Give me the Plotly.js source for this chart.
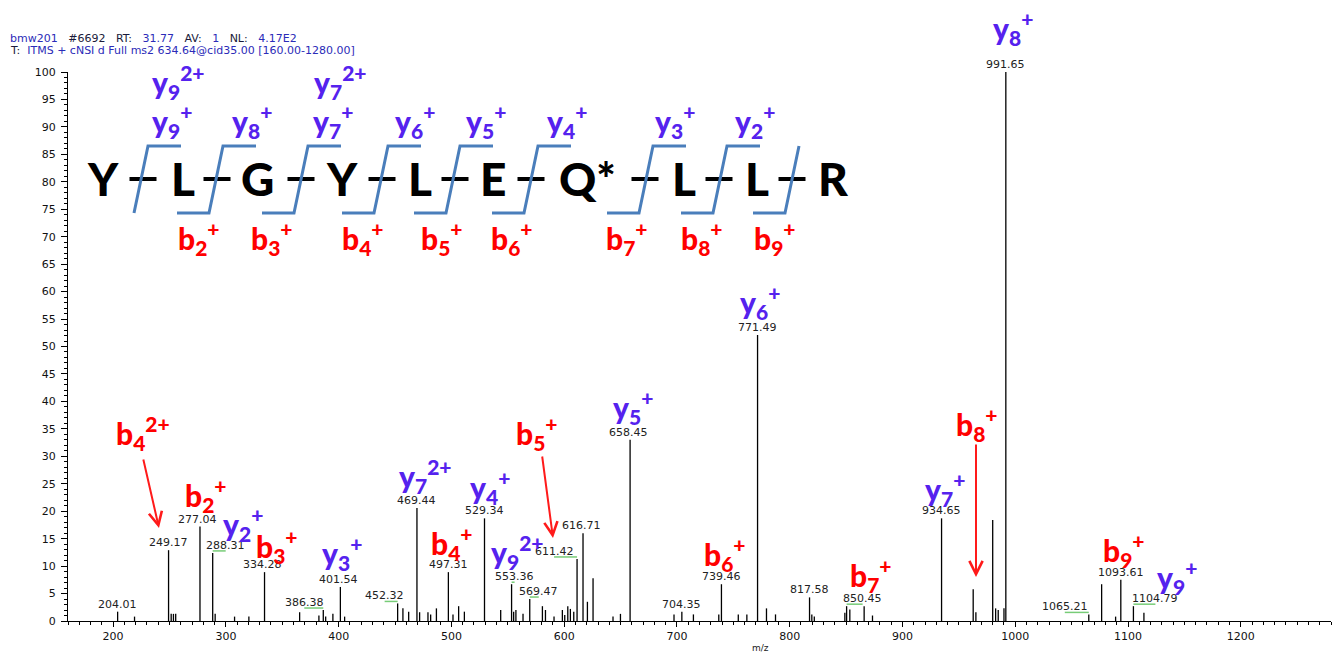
<!DOCTYPE html>
<html><head><meta charset="utf-8">
<script src="https://cdn.plot.ly/plotly-3.0.1.min.js"></script>
<style>html,body{margin:0;padding:0;background:#fff}#chart{width:1336px;height:655px}</style>
</head><body><div id="chart"></div>
<script>
// ---------------- DATA ----------------
const peakMz = [204.01,219.0,249.17,251.5,253.5,255.5,277.04,288.31,290.5,307.7,320.4,334.28,365.4,382.5,386.38,388.5,394.9,401.54,405.3,
  452.32,457.0,462.1,469.44,471.8,479.2,481.6,486.7,497.31,501.4,506.4,511.5,529.34,543.7,553.36,555.2,557.2,563.5,569.47,580.7,583.4,
  591.0,598.4,600.5,603.2,605.5,608.5,611.42,616.71,620.6,625.6,643.3,649.9,658.45,697.4,704.35,714.6,737.1,739.46,754.4,762.0,771.49,
  779.4,787.4,817.58,819.6,821.8,848.9,850.45,853.3,866.0,873.4,934.65,962.7,965.1,980.0,982.6,984.9,990.0,991.65,1065.21,1076.6,
  1089.0,1093.61,1104.79,1114.1];
const peakInt = [1.7,0.8,12.9,1.3,1.3,1.3,17.2,12.4,1.3,0.8,0.8,8.9,1.6,1.0,2.0,0.8,1.3,6.2,0.8,
  3.2,2.3,1.7,20.6,1.6,1.6,1.2,2.3,8.9,1.2,2.7,1.7,18.7,2.0,6.7,1.7,2.0,1.3,4.0,2.7,2.0,
  0.8,2.0,1.1,2.7,2.2,1.7,11.3,16.0,3.5,7.8,0.8,1.3,33.0,1.2,1.7,1.2,1.2,6.7,1.2,1.2,52.1,
  2.3,1.2,4.3,1.2,0.8,1.5,2.7,2.1,2.7,1.0,18.7,5.8,1.6,18.4,2.3,2.0,2.3,100,1.2,6.7,
  0.8,7.5,2.7,1.5];
const labeledMz = [204.01,249.17,277.04,288.31,334.28,386.38,401.54,452.32,469.44,497.31,529.34,553.36,569.47,611.42,616.71,
  658.45,704.35,739.46,771.49,817.58,850.45,934.65,991.65,1065.21,1093.61,1104.79];
const sequence = ['Y','L','G','Y','L','E','Q*','L','L','R'];
const seqIonsTop = ['y9 2+','y7 2+','y9+','y8+','y7+','y6+','y5+','y4+','y3+','y2+'];
const seqIonsBottom = ['b2+','b3+','b4+','b5+','b6+','b7+','b8+','b9+'];
const spectrumIons = ['b4 2+','b2+','y2+','b3+','y3+','y7 2+','y4+','b4+','y9 2+','b5+','y5+','b6+','y6+','b7+','y7+','b8+','b9+','y9+','y8+'];
const headerLine1 = [['bmw201','v'],['#6692','k'],['RT:','k'],['31.77','v'],['AV:','k'],['1','v'],['NL:','k'],['4.17E2','v']];
const headerLine2 = [['T:','k'],['ITMS\u00A0+\u00A0cNSI\u00A0d\u00A0Full\u00A0ms2\u00A0634.64@cid35.00\u00A0[160.00-1280.00]','v']];

// ---------------- LAYOUT HELPERS (pixel geometry) ----------------
const W=1336,H=655, PL=68, PR=1331, PT=72, PB=621;
const XR=[160,1280], YR=[0,100];
const px = x => (x-PL)/(PR-PL);
const py = y => (PB-y)/(PB-PT);
const mzPerPx = (XR[1]-XR[0])/(PR-PL), intPerPx=(YR[1]-YR[0])/(PB-PT);

// label styling offsets (px): [dx, green connector]
const labelStyle = {'288.31':[13,1],'334.28':[-2,0],'386.38':[-19,1],'401.54':[-2,0],'452.32':[-13,1],'553.36':[3,1],
  '569.47':[9,1],'611.42':[-23,1],'616.71':[-2,0],'850.45':[16,1],'1065.21':[-24,1],'1104.79':[22,1],'277.04':[-2,0],'658.45':[-2,0]};
const seqLetterX = [103,183,257,342,420,493,587,684,757,834];
const dashX = [143,217,301,382,455,531,645,719,792];
const cleaveX = [148,223,308,388,460,538,653,727,799];
const seqTopPos = [[178,82],[340,82],[172,121],[252,121],[333,121],[415,121],[486,121],[567,121],[675,121],[755,121]];
const seqBotPos = [199,272,363,442,512,627,702,775];
const specIonPos = [[143,433],[206,495],[243,524],[277,546],[342,553],[425,476],[490,487],[452,543],[517,552],[537,433],
  [633,407],[725,554],[760,302],[871,575],[945,489],[977,424],[1124,550],[1177,577],[1013,28]];
const arrows = [[143,458,159,528],[542,455,553,538],[976,443,976,577]];

const YCOL='#5522EE', BCOL='#FF0000';
function ion(s){
  const L=s[0], rest=s.slice(1); let n,c;
  if(rest.includes(' ')){[n,c]=rest.split(' ');} else {n=rest.replace('+','');c='+';}
  return `<span style="font-weight:900">${L}<sub>${n}</sub><sup>${c}</sup></span>`;
}
const ionFont = c => ({family:'Lato, "Liberation Sans", sans-serif', size:30, weight:900, color:c});

// ---------------- TRACES ----------------
const sx=[], sy=[];
peakMz.forEach((m,i)=>{sx.push(m,m,null); sy.push(0,peakInt[i],null);});
const traces=[{type:'scatter',mode:'lines',x:sx,y:sy,line:{color:'#000',width:1.3},hoverinfo:'skip'}];

// ---------------- ANNOTATIONS / SHAPES ----------------
const ann=[], shapes=[];
// header
const hv='#2b2bb8', hk='#1a1a3a';
function hdr(parts,sep){return parts.map(p=>`<span style="color:${p[1]==='v'?hv:hk}">${p[0]}</span>`).join(sep);}
ann.push({xref:'paper',yref:'paper',x:px(8),y:py(39),xanchor:'left',yanchor:'middle',showarrow:false,text:hdr(headerLine1,'\u00A0\u00A0\u00A0'),font:{family:'DejaVu Sans',size:11,color:hv}});
ann.push({xref:'paper',yref:'paper',x:px(8),y:py(51),xanchor:'left',yanchor:'middle',showarrow:false,text:hdr(headerLine2,'\u00A0\u00A0'),font:{family:'DejaVu Sans',size:11,color:hv}});
// peak labels
labeledMz.forEach(m=>{
  const i=peakMz.indexOf(m); const I=peakInt[i];
  const st=labelStyle[m.toFixed(2)]||[0,0];
  ann.push({x:m,y:I,xref:'x',yref:'y',text:m.toFixed(2),showarrow:false,xanchor:'center',yanchor:'bottom',xshift:st[0],yshift:-1,
    font:{family:'DejaVu Sans',size:11,color:'#222'}});
  if(st[1]){
    const yy=I+2*intPerPx;
    shapes.push({type:'line',xref:'x',yref:'y',x0:m,x1:m+st[0]*mzPerPx,y0:yy,y1:yy,line:{color:'#77cc77',width:1.5}});
  }
});
// sequence letters & dashes & cleavage brackets
sequence.forEach((s,i)=>ann.push({xref:'paper',yref:'paper',x:px(seqLetterX[i]),y:py(179),xanchor:'center',yanchor:'middle',showarrow:false,
  text:'<span style="font-weight:900">'+s+'</span>',font:{family:'Lato, "Liberation Sans", sans-serif',size:46,weight:900,color:'#000'}}));
dashX.forEach(x=>shapes.push({type:'line',xref:'paper',yref:'paper',x0:px(x-13.5),x1:px(x+13.5),y0:py(179),y1:py(179),line:{color:'#000',width:4}}));
const BL='#4a7ebb';
cleaveX.forEach((x,i)=>{
  const xb=x-14;
  let path=(i>0?`M${px(xb-32)},${py(213)} L${px(xb)},${py(213)}`:`M${px(xb)},${py(213)}`)+` L${px(x)},${py(146)}`;
  if(i<cleaveX.length-1) path+=` L${px(x+33)},${py(146)}`;
  shapes.push({type:'path',xref:'paper',yref:'paper',path:path,line:{color:BL,width:3}});
});
seqIonsTop.forEach((s,i)=>ann.push({xref:'paper',yref:'paper',x:px(seqTopPos[i][0]),y:py(seqTopPos[i][1]),xanchor:'center',yanchor:'middle',showarrow:false,text:ion(s),font:ionFont(YCOL)}));
seqIonsBottom.forEach((s,i)=>ann.push({xref:'paper',yref:'paper',x:px(seqBotPos[i]),y:py(238),xanchor:'center',yanchor:'middle',showarrow:false,text:ion(s),font:ionFont(BCOL)}));
spectrumIons.forEach((s,i)=>ann.push({xref:'paper',yref:'paper',x:px(specIonPos[i][0]),y:py(specIonPos[i][1]),xanchor:'center',yanchor:'middle',showarrow:false,text:ion(s),font:ionFont(s[0]==='y'?YCOL:BCOL)}));
arrows.forEach(a=>ann.push({xref:'paper',yref:'paper',x:px(a[2]),y:py(a[3]),ax:a[0]-a[2],ay:a[1]-a[3],text:'',showarrow:true,arrowhead:5,arrowsize:1.3,arrowwidth:2,arrowcolor:'#ff1a1a',standoff:0}));
// m/z
ann.push({xref:'paper',yref:'paper',x:px(760),y:py(648),xanchor:'center',yanchor:'middle',showarrow:false,text:'m/z',font:{family:'DejaVu Sans',size:9,color:'#222'}});

const tickFont={family:'DejaVu Sans',size:11,color:'#111'};
const layout={width:W,height:H,margin:{l:PL,r:W-PR,t:PT,b:H-PB,pad:0},paper_bgcolor:'#fff',plot_bgcolor:'#fff',showlegend:false,
  xaxis:{range:XR,showgrid:false,zeroline:false,showline:true,linecolor:'#000',linewidth:1,ticks:'outside',ticklen:5,tickwidth:1,tickcolor:'#000',
    tick0:0,dtick:100,tickfont:tickFont,minor:{dtick:10,tick0:0,ticks:'outside',ticklen:3,tickcolor:'#000',showgrid:false},fixedrange:true},
  yaxis:{range:YR,showgrid:false,zeroline:false,showline:true,linecolor:'#000',linewidth:1,ticks:'outside',ticklen:6,tickwidth:1,tickcolor:'#000',
    tick0:0,dtick:5,tickfont:tickFont,ticklabelstandoff:3,minor:{dtick:1,tick0:0,ticks:'outside',ticklen:3,tickcolor:'#000',showgrid:false},fixedrange:true},
  shapes:shapes,annotations:ann};
Plotly.newPlot('chart',traces,layout,{staticPlot:true,displayModeBar:false});
</script></body></html>
